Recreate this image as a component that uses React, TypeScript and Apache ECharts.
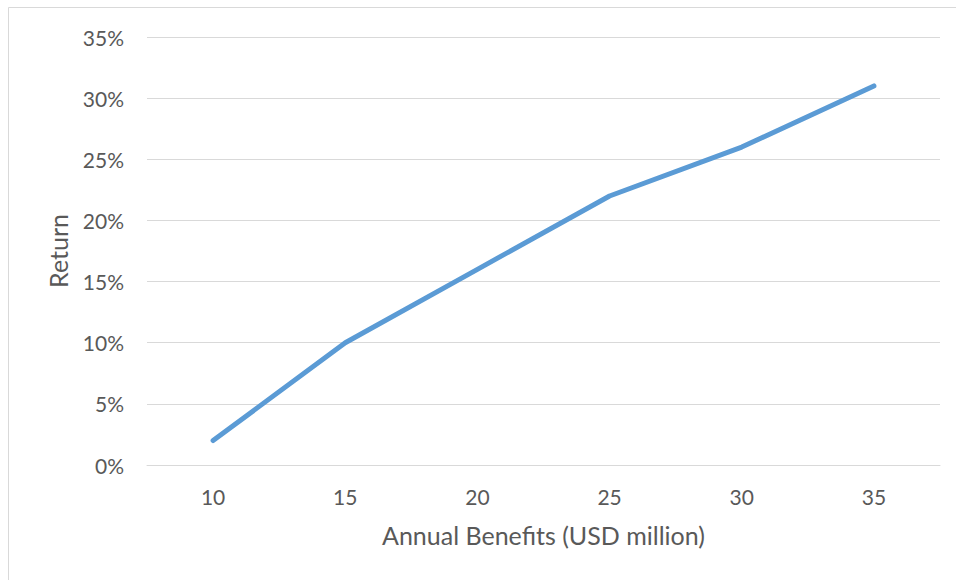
import React, { useEffect, useRef } from "react";
import * as echarts from "echarts";

const categories = ["10", "15", "20", "25", "30", "35"];
const returns = [0.02, 0.10, 0.16, 0.22, 0.26, 0.31];
const xAxisTitle = "Annual Benefits (USD million)";
const yAxisTitle = "Return";

export default function App() {
  const ref = useRef<HTMLDivElement>(null);
  useEffect(() => {
    const chart = echarts.init(ref.current!, null, { renderer: "svg" });
    const font = "Lato, 'Open Sans', sans-serif";
    chart.setOption({
      animation: false,
      backgroundColor: "#ffffff",
      graphic: [
        {
          type: "rect",
          shape: { x: 8.5, y: 7.5, width: 1000, height: 700 },
          style: { fill: "none", stroke: "#d9d9d9", lineWidth: 1 },
          silent: true,
        },
      ],
      grid: { left: 147, right: 16, top: 37, bottom: 115 },
      xAxis: {
        type: "category",
        data: categories,
        boundaryGap: true,
        name: xAxisTitle,
        nameLocation: "middle",
        nameGap: 57,
        nameTextStyle: { fontSize: 25, color: "#595959", fontFamily: font },
        axisLine: { show: true, lineStyle: { color: "#d9d9d9", width: 1 } },
        axisTick: { show: false },
        axisLabel: { fontSize: 21, color: "#595959", fontFamily: font, margin: 21 },
      },
      yAxis: {
        type: "value",
        min: 0,
        max: 0.35,
        interval: 0.05,
        name: yAxisTitle,
        nameLocation: "middle",
        nameGap: 77,
        nameTextStyle: { fontSize: 25, color: "#595959", fontFamily: font },
        axisLine: { show: false },
        axisTick: { show: false },
        splitLine: { lineStyle: { color: "#d9d9d9", width: 1 } },
        axisLabel: {
          fontSize: 21,
          color: "#595959",
          fontFamily: font,
          margin: 23,
          formatter: (v: number) => `${Math.round(v * 100)}%`,
        },
      },
      series: [
        {
          type: "line",
          data: returns,
          symbol: "none",
          lineStyle: { color: "#5b9bd5", width: 5, cap: "round", join: "round" },
        },
      ],
    });
    return () => chart.dispose();
  }, []);
  return (
    <div
      ref={ref}
      style={{ position: "absolute", left: 0, top: 0, width: 956, height: 580 }}
    />
  );
}
